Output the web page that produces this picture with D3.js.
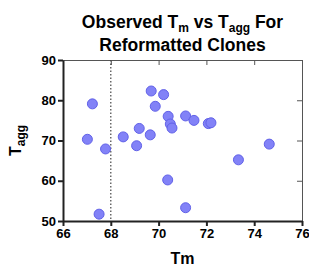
<!DOCTYPE html>
<html>
<head>
<meta charset="utf-8">
<style>
body { margin: 0; background: #fff; }
text { font-family: "Liberation Sans", Arial, sans-serif; font-weight: bold; fill: #000; }
</style>
</head>
<body>
<script src="https://cdn.jsdelivr.net/npm/d3@7"></script>
<script>
var tm   = [67.02, 67.23, 67.51, 67.78, 68.52, 69.08, 69.19, 69.65, 69.69, 69.86, 70.21,
            70.38, 70.40, 70.49, 70.56, 71.13, 71.13, 71.48, 72.08, 72.19, 73.34, 74.63];
var tagg = [70.3, 79.1, 51.7, 67.9, 70.9, 68.7, 73.0, 71.4, 82.3, 78.5, 81.4,
            60.2, 76.0, 74.1, 73.1, 53.3, 76.1, 75.0, 74.2, 74.4, 65.2, 69.1];
var xTicks = [66, 68, 70, 72, 74, 76];
var yTicks = [50, 60, 70, 80, 90];
var cutoff = 68;

var width = 309, height = 268;
var margin = {top: 60, right: 7, bottom: 47, left: 63};

var svg = d3.select("body").append("svg")
    .attr("width", width)
    .attr("height", height);

var x = d3.scaleLinear().domain([66, 76]).range([margin.left, width - margin.right]);
var y = d3.scaleLinear().domain([50, 90]).range([height - margin.bottom, margin.top]);

// frame: thin top/right with inward ticks
svg.append("g")
    .attr("transform", "translate(0," + margin.top + ")")
    .call(d3.axisTop(x).tickValues(xTicks).tickSize(-5).tickFormat(""))
    .call(g => g.selectAll("path,line").attr("stroke", "#555").attr("stroke-width", 1));
svg.append("g")
    .attr("transform", "translate(" + (width - margin.right) + ",0)")
    .call(d3.axisRight(y).tickValues(yTicks).tickSize(-5).tickFormat(""))
    .call(g => g.selectAll("path,line").attr("stroke", "#555").attr("stroke-width", 1));

// main axes
var xAxis = svg.append("g")
    .attr("transform", "translate(0," + (height - margin.bottom) + ")")
    .call(d3.axisBottom(x).tickValues(xTicks).tickSize(5).tickSizeOuter(0).tickPadding(3));
var yAxis = svg.append("g")
    .attr("transform", "translate(" + margin.left + ",0)")
    .call(d3.axisLeft(y).tickValues(yTicks).tickSize(5).tickSizeOuter(0).tickPadding(2));

[xAxis, yAxis].forEach(function(g) {
  g.selectAll("path,line").attr("stroke", "#222").attr("stroke-width", 2);
  g.selectAll("text").style("font-size", "13px").style("font-family", "Liberation Sans, Arial, sans-serif").style("font-weight", "bold");
});

// dotted reference line
svg.append("line")
    .attr("x1", x(cutoff)).attr("x2", x(cutoff))
    .attr("y1", y(90)).attr("y2", y(50))
    .attr("stroke", "#444")
    .attr("stroke-width", 1.2)
    .attr("stroke-dasharray", "1.5,2");

// points
svg.append("g")
  .selectAll("circle")
  .data(d3.range(tm.length))
  .join("circle")
    .attr("cx", i => x(tm[i]))
    .attr("cy", i => y(tagg[i]))
    .attr("r", 5)
    .attr("fill", "#8282f7")
    .attr("stroke", "#6262e8")
    .attr("stroke-width", 1);

// title
var title = svg.append("text")
    .attr("x", (margin.left + width - margin.right) / 2)
    .attr("y", 28)
    .attr("text-anchor", "middle")
    .style("font-size", "17.5px");
title.append("tspan").text("Observed T");
title.append("tspan").attr("dy", 4).style("font-size", "12px").text("m");
title.append("tspan").attr("dy", -4).text(" vs T");
title.append("tspan").attr("dy", 4).style("font-size", "12px").text("agg");
title.append("tspan").attr("dy", -4).text(" For");

svg.append("text")
    .attr("x", (margin.left + width - margin.right) / 2)
    .attr("y", 51)
    .attr("text-anchor", "middle")
    .style("font-size", "17.5px")
    .text("Reformatted Clones");

// axis titles
svg.append("text")
    .attr("x", (margin.left + width - margin.right) / 2)
    .attr("y", 264)
    .attr("text-anchor", "middle")
    .style("font-size", "16px")
    .text("Tm");

var yt = svg.append("text")
    .attr("transform", "translate(21," + y(70) + ") rotate(-90)")
    .attr("text-anchor", "middle")
    .style("font-size", "16px");
yt.append("tspan").text("T");
yt.append("tspan").attr("dy", 4).style("font-size", "12px").text("agg");
</script>
</body>
</html>
